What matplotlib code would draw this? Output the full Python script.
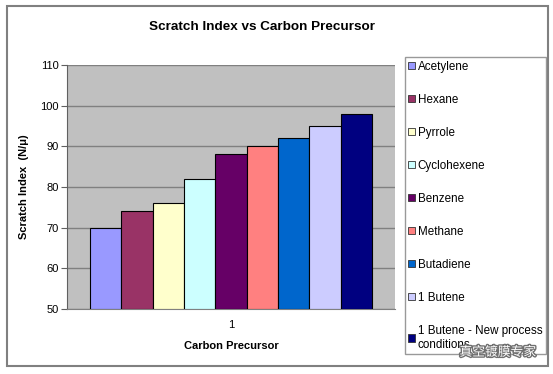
import matplotlib.pyplot as plt
import matplotlib.patheffects as pe
from matplotlib.patches import Rectangle, Patch

plt.rcParams['font.family'] = ['Liberation Sans', 'Noto Sans CJK SC', 'DejaVu Sans']

# data
precursors = ['Acetylene', 'Hexane', 'Pyrrole', 'Cyclohexene', 'Benzene',
              'Methane', 'Butadiene', '1 Butene',
              '1 Butene - New process\nconditions']
scratch_index = [70, 74, 76, 82, 88, 90, 92, 95, 98]
colors = ['#9999FF', '#993366', '#FFFFCC', '#CCFFFF', '#660066',
          '#FF8080', '#0066CC', '#CCCCFF', '#000080']
yticks = [50, 60, 70, 80, 90, 100, 110]

fig = plt.figure(figsize=(5.53, 3.74), dpi=100)
ax = fig.add_axes([0.121, 0.174, 0.593, 0.652])

n = len(scratch_index)
group_w = 0.86
w = group_w / n
for i, (v, c, lab) in enumerate(zip(scratch_index, colors, precursors)):
    x = -group_w / 2 + w * (i + 0.5)
    ax.bar(x, v - 50, bottom=50, width=w, color=c, edgecolor='black',
           linewidth=0.8, label=lab, zorder=3)

ax.set_xlim(-0.5, 0.5)
ax.set_ylim(50, 110)
ax.set_yticks(yticks)
ax.set_xticks([0])
ax.set_xticklabels(['1'])
ax.set_facecolor('#C0C0C0')
ax.yaxis.grid(True, color='#808080', linewidth=1, zorder=0)
ax.set_axisbelow(True)
for s in ['top', 'right']:
    ax.spines[s].set_visible(False)
ax.spines['left'].set_color('#606060')
ax.spines['bottom'].set_color('#808080')
ax.tick_params(axis='y', labelsize=8, length=4, color='#606060', pad=2)
ax.tick_params(axis='x', labelsize=8, length=0, pad=8)
ax.set_xlabel('Carbon Precursor', fontsize=8, fontweight='bold', labelpad=8)
ax.set_ylabel('Scratch Index  (N/\u03bc)', fontsize=8, fontweight='bold', labelpad=8)

fig.text(0.474, 0.927, 'Scratch Index vs Carbon Precursor', ha='center', va='center',
         fontsize=9.7, fontweight='bold')

# outer chart frame
fig.patches.append(Rectangle((7 / 553, 1 - 366 / 374), 541 / 553, 360 / 374,
                             transform=fig.transFigure, fill=False,
                             edgecolor='#808080', linewidth=1.5))

handles = [Patch(facecolor=c, edgecolor='#333333', linewidth=0.6) for c in colors]
leg = fig.legend(handles, precursors, loc='upper left',
                 bbox_to_anchor=(0.732, 0.847), fontsize=8.4, frameon=True,
                 fancybox=False, edgecolor='#808080', handlelength=0.55,
                 handleheight=0.55, handletextpad=0.25, labelspacing=1.8,
                 borderpad=0.3, borderaxespad=0)
leg.get_frame().set_linewidth(1)

# watermark
fig.text(0.90, 0.058, '\u771f\u7a7a\u9540\u819c\u4e13\u5bb6', ha='center', va='center',
         fontsize=9.2, color='white', family=['Noto Sans CJK SC'], zorder=10,
         path_effects=[pe.withStroke(linewidth=2, foreground='#707070')])

fig.savefig('out.png', dpi=100)
